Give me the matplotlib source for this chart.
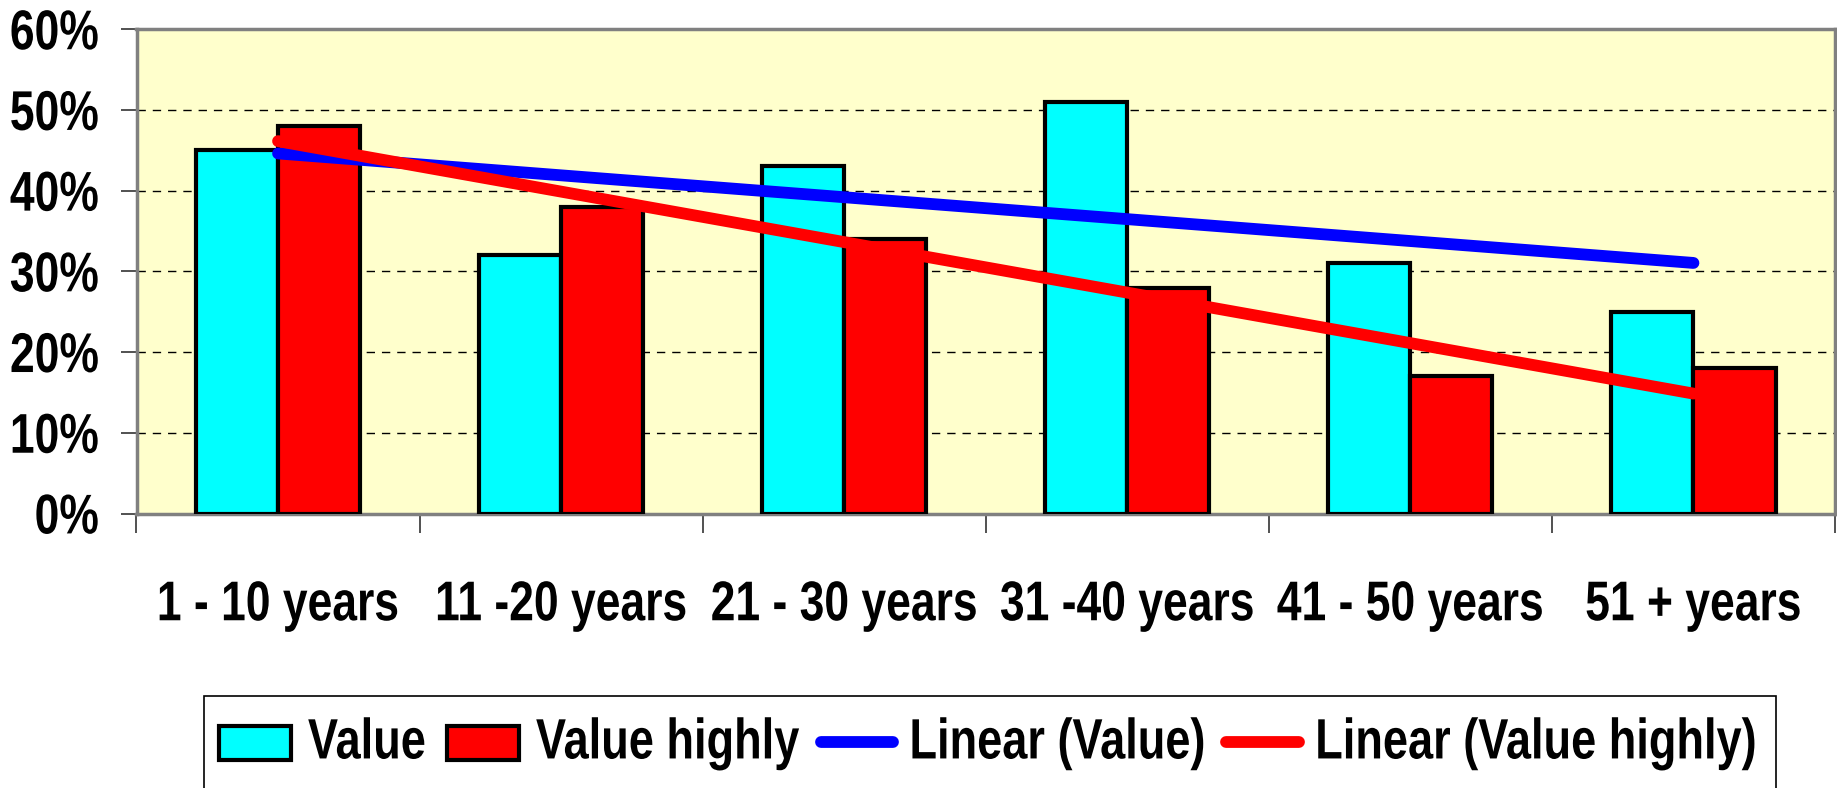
import numpy as np
import matplotlib
matplotlib.use("Agg")
import matplotlib.pyplot as plt
from matplotlib.patches import Patch, Rectangle
from matplotlib.lines import Line2D
from matplotlib.patheffects import AbstractPathEffect
from matplotlib.transforms import Affine2D

# -------- Data --------
categories = ['1 - 10 years', '11 -20 years', '21 - 30 years',
              '31 -40 years', '41 - 50 years', '51 + years']
value = [45, 32, 43, 51, 31, 25]
value_highly = [48, 38, 34, 28, 17, 18]
y_ticks = [0, 10, 20, 30, 40, 50, 60]
labels = ['Value', 'Value highly', 'Linear (Value)', 'Linear (Value highly)']

plt.rcParams['font.family'] = ['Liberation Sans', 'DejaVu Sans']
plt.rcParams['font.weight'] = 'bold'
W, H = 1837, 788


# tall, condensed look of the original font: stretch glyphs vertically
class Stretch(AbstractPathEffect):
    def __init__(self, sy, cy=0):
        super().__init__()
        self.sy, self.cy = sy, cy

    def draw_path(self, renderer, gc, tpath, affine, rgbFace=None):
        t = Affine2D().translate(0, -self.cy).scale(1, self.sy).translate(0, self.cy) + affine
        renderer.draw_path(gc, tpath, t, rgbFace)


# -------- Figure --------
fig = plt.figure(figsize=(W / 100, H / 100), dpi=100)
ax = fig.add_axes([136.5 / W, 1 - 513.5 / H, (1835 - 136.5) / W, (513.5 - 29.3) / H])
ax.set_facecolor('#FFFFCC')

x = np.arange(len(categories))
w = 0.29
ax.bar(x - w / 2, value, w, color='#00FFFF', edgecolor='black', linewidth=3, zorder=3)
ax.bar(x + w / 2, value_highly, w, color='#FF0000', edgecolor='black', linewidth=3, zorder=3)

# linear trendlines
for data, col in [(value, '#0000FF'), (value_highly, '#FF0000')]:
    k, b = np.polyfit(x + 1, data, 1)
    ax.plot(x, k * (x + 1) + b, color=col, lw=8.5, solid_capstyle='round', zorder=4)

ax.set_xlim(-0.5, len(categories) - 0.5)
ax.set_ylim(0, 60)
ax.set_yticks(y_ticks)
ax.set_yticklabels([f'{t}%' for t in y_ticks], fontsize=32, fontweight='bold')
ax.tick_params(axis='y', length=11.5, width=1.2, color='#333333', pad=15.6)

ax.set_xticks(np.arange(len(categories) + 1) - 0.5)
ax.set_xticklabels([])
ax.tick_params(axis='x', which='major', length=13.5, width=1.2, color='#333333')
ax.set_xticks(x, minor=True)
ax.set_xticklabels(categories, minor=True, fontsize=32, fontweight='bold')
ax.tick_params(axis='x', which='minor', length=0, pad=51)

for lbl in ax.get_yticklabels() + ax.get_xticklabels(minor=True):
    lbl.set_path_effects([Stretch(1.26, 34)])

ax.yaxis.grid(True, color='black', linestyle=(0, (6, 5)), linewidth=1.0, zorder=1)
ax.set_axisbelow(True)
for s in ax.spines.values():
    s.set_color('#808080')
    s.set_linewidth(2.5)

# -------- Legend --------
handles = [
    Patch(facecolor='#00FFFF', edgecolor='black', linewidth=3),
    Patch(facecolor='#FF0000', edgecolor='black', linewidth=3),
    Line2D([0], [0], color='#0000FF', lw=8.5, solid_capstyle='round'),
    Line2D([0], [0], color='#FF0000', lw=8.5, solid_capstyle='round'),
]
leg = fig.legend(handles, labels, loc='upper left', bbox_to_anchor=(219 / W, 1 - 725.5 / H),
                 ncol=4, fontsize=32.5, frameon=False, handlelength=1.6, handleheight=0.8,
                 handletextpad=0.37, columnspacing=0.47, borderpad=0, borderaxespad=0)
for t in leg.get_texts():
    t.set_fontweight('bold')
    t.set_path_effects([Stretch(1.26, 0)])

# legend frame (runs off the bottom edge like the original)
fig.add_artist(Rectangle((204 / W, 1 - 800 / H), (1776 - 204) / W, (800 - 696) / H,
                         transform=fig.transFigure, fill=False, edgecolor='black', lw=1.2))

fig.savefig('out.png', dpi=100)
